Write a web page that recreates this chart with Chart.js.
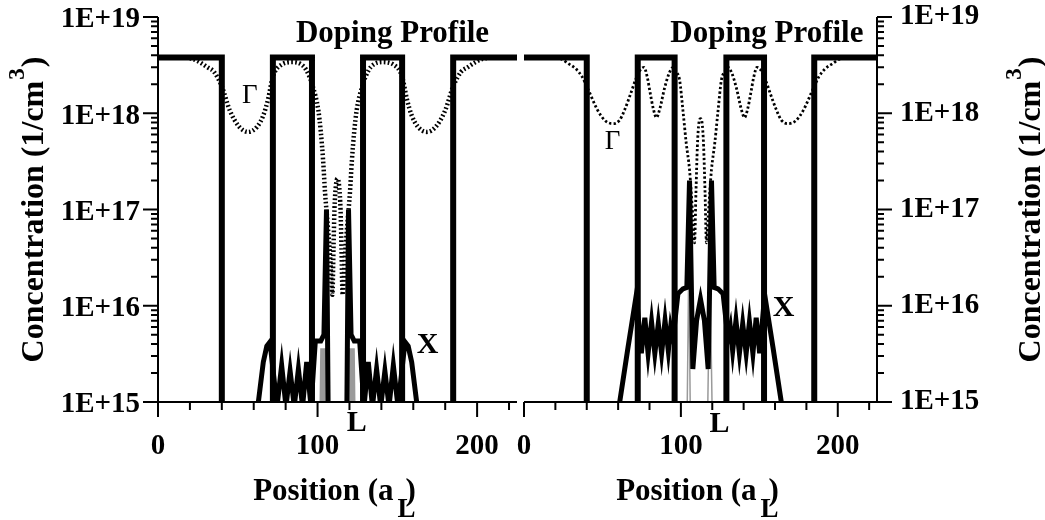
<!DOCTYPE html>
<html>
<head>
<meta charset="utf-8">
<script src="https://cdn.jsdelivr.net/npm/chart.js@4.4.0/dist/chart.umd.min.js"></script>
<style>
  html, body { margin: 0; padding: 0; background: #fff; }
  #wrap { position: relative; width: 1045px; height: 520px; }
  #wrap canvas { position: absolute; left: 0; top: 0; }
</style>
</head>
<body>
<div id="wrap">
  <canvas id="leftPanel" width="1045" height="520"></canvas>
  <canvas id="rightPanel" width="1045" height="520"></canvas>
</div>
<script>
// axes
const xTicks = [0, 20, 40, 60, 80, 100, 120, 140, 160, 180, 200, 220];
const xLabels = [0, 100, 200];
const yDecades = [15, 16, 17, 18, 19];
const yMantissas = [1, 2, 3, 4, 5, 6, 7, 8, 9];

// left panel
const leftDopingX = [0, 40, 40, 72, 72, 96.5, 96.5, 128.5, 128.5, 153, 153, 185, 185, 225];
const leftDoping = [3.8e18, 3.8e18, 1e13, 1e13, 3.8e18, 3.8e18, 1e13, 1e13, 3.8e18, 3.8e18, 1e13, 1e13, 3.8e18, 3.8e18];

const leftGammaX = [0, 15, 22, 26, 31, 35, 40, 45, 51, 56.5, 62, 66, 69, 72, 77.5, 84.5, 90, 93, 97, 100.5,
  102, 103.5, 104.7, 106.5, 108, 109.3, 110, 110.6, 111.4, 112.5, 113.6, 114.4, 115, 115.7, 117, 118.5, 120.3,
  121.5, 123, 124.5, 128, 132, 135, 140.5, 147.5, 153, 156, 159, 163, 168.5, 174, 180, 185, 190, 194, 199, 203, 210, 225];
const leftGamma = [3.8e18, 3.8e18, 3.65e18, 3.4e18, 3.0e18, 2.7e18, 1.9e18, 1.07e18, 7.2e17, 6.4e17, 7.2e17, 9.5e17,
  1.4e18, 2.4e18, 3.2e18, 3.4e18, 3.2e18, 2.8e18, 1.9e18, 1.07e18, 6.5e17, 3.2e17, 1.5e17, 6.5e16, 3e16, 1.3e16,
  4e16, 1e17, 1.7e17, 2.1e17, 1.7e17, 1e17, 4e16, 1.3e16, 3e16, 6.5e16, 1.5e17, 3.2e17, 6.5e17, 1.07e18, 1.9e18,
  2.8e18, 3.2e18, 3.4e18, 3.2e18, 2.4e18, 1.4e18, 9.5e17, 7.2e17, 6.4e17, 7.2e17, 1.07e18, 1.9e18, 2.7e18, 3.0e18,
  3.4e18, 3.65e18, 3.8e18, 3.8e18];

const leftXvX = [61, 62.9, 66, 68.2, 70.2, 74.6, 77.5, 80.2, 82.8, 85.4, 88, 90.6, 93.2, 95.9, 98.6, 102, 104,
  105.6, 106.8, 118.2, 119.4, 121, 123, 126.4, 129.1, 131.8, 134.4, 137, 139.6, 142.2, 144.8, 147.5, 150.4,
  154.8, 156.8, 159, 162.1, 164];
const leftXv = [4e14, 1e15, 2.6e15, 3.8e15, 4.2e15, 9e14, 2.4e15, 9e14, 2.1e15, 9e14, 2.2e15, 9e14, 2.6e15, 9e14,
  4.3e15, 4.3e15, 5e15, 1e17, 4e14, 4e14, 1e17, 5e15, 4.3e15, 4.3e15, 9e14, 2.6e15, 9e14, 2.2e15, 9e14, 2.1e15,
  9e14, 2.4e15, 9e14, 4.2e15, 3.8e15, 2.6e15, 1e15, 4e14];

const leftLX = [102.4, 103.2, 104.6, 105.4, 119.6, 120.4, 121.8, 122.6];
const leftL = [3e14, 3.4e15, 3.4e15, 3e14, 3e14, 3.4e15, 3.4e15, 3e14];

// right panel
const rightDopingX = [0, 40, 40, 72.5, 72.5, 96, 96, 129, 129, 153, 153, 185, 185, 225];
const rightDoping = [3.8e18, 3.8e18, 1e13, 1e13, 3.8e18, 3.8e18, 1e13, 1e13, 3.8e18, 3.8e18, 1e13, 1e13, 3.8e18, 3.8e18];

const rightGammaX = [0, 20, 24, 28, 33, 37, 41, 47, 52, 57, 61, 64, 68, 71, 74, 76.5, 78.5, 80.5, 82.5, 84.4, 86.5,
  89.5, 92.5, 95, 97, 99.2, 101.3, 103.4, 105.5, 106.6, 107.7, 108.7, 109.6, 110.5, 111.5, 112.5, 113.5, 114.5,
  115.4, 116.3, 117.3, 118.4, 119.5, 121.6, 123.7, 125.8, 128, 130, 132.5, 135.5, 138.5, 140.6, 142.5, 144.5,
  146.5, 148.5, 151, 154, 157, 161, 164, 168, 173, 178, 184, 188, 192, 197, 201, 205, 225];
const rightGamma = [3.8e18, 3.8e18, 3.65e18, 3.3e18, 2.9e18, 2.4e18, 1.75e18, 1.07e18, 8.3e17, 7.8e17, 8.5e17,
  1.07e18, 1.6e18, 2.2e18, 2.8e18, 3e18, 2.4e18, 1.6e18, 1.1e18, 9e17, 1.1e18, 1.8e18, 2.6e18, 3e18, 2.7e18,
  2.2e18, 1.07e18, 4.9e17, 2.6e17, 1.5e17, 7.8e16, 4.5e16, 1.5e17, 4.5e17, 8e17, 8.8e17, 8e17, 4.5e17, 1.5e17,
  4.5e16, 7.8e16, 1.5e17, 2.6e17, 4.9e17, 1.07e18, 2.2e18, 2.7e18, 3e18, 2.6e18, 1.8e18, 1.1e18, 9e17, 1.1e18,
  1.6e18, 2.4e18, 3e18, 2.8e18, 2.2e18, 1.6e18, 1.07e18, 8.5e17, 7.8e17, 8.3e17, 1.07e18, 1.75e18, 2.4e18,
  2.9e18, 3.3e18, 3.65e18, 3.8e18, 3.8e18];

const rightXvX = [59, 61, 66.3, 71.6, 74.8, 77, 79.1, 81.3, 83.4, 85.6, 87.7, 89.9, 92, 93.5, 95, 98.1, 101.3,
  103.8, 105.5, 107.6, 110, 112.5, 115, 117.4, 119.5, 121.2, 123.7, 126.9, 130, 131.5, 133, 135.1, 137.3, 139.4,
  141.6, 143.7, 145.9, 148, 150.2, 153.4, 158.7, 164, 166];
const rightXv = [5e14, 1e15, 3.7e15, 1.3e16, 3.2e15, 7.5e15, 3.2e15, 6.8e15, 3.2e15, 6.5e15, 3.2e15, 7e15, 3.4e15,
  6e15, 4.6e15, 1.33e16, 1.5e16, 1.55e16, 2e17, 2.2e15, 7e15, 1.17e16, 7e15, 2.2e15, 2e17, 1.55e16, 1.5e16,
  1.33e16, 4.6e15, 6e15, 3.4e15, 7e15, 3.2e15, 6.5e15, 3.2e15, 6.8e15, 3.2e15, 7.5e15, 3.2e15, 1.3e16, 3.7e15,
  1e15, 5e14];

const rightLX = [103.6, 105, 106.4, 116.5, 118.5, 120.5];
const rightL = [2e14, 2.5e16, 2e14, 2e14, 2.5e16, 2e14];

const serif = "'Liberation Serif', 'Times New Roman', serif";

function pts(xs, ys) {
  return xs.map((x, i) => ({ x: x, y: ys[i] }));
}

function isDecade(v) {
  const e = Math.round(Math.log10(v));
  return Math.abs(v - Math.pow(10, e)) < v * 1e-9;
}

const yTickValues = [];
yDecades.forEach((e, i) => {
  if (i === yDecades.length - 1) {
    yTickValues.push(Number('1e' + e));
  } else {
    yMantissas.forEach(m => yTickValues.push(Number(m + 'e' + e)));
  }
});

// axis lines, tick marks, titles and the curve names
const panelDeco = {
  id: 'panelDeco',
  afterDraw(chart, args, opts) {
    const ctx = chart.ctx;
    const a = chart.chartArea;
    const sx = chart.scales.x, sy = chart.scales.y;
    const onLeft = opts.side === 'left';
    const axisX = onLeft ? a.left : a.right;
    const dir = onLeft ? -1 : 1;

    ctx.save();
    ctx.strokeStyle = '#000';
    ctx.lineWidth = 2;
    ctx.beginPath();
    ctx.moveTo(a.left, a.bottom);
    ctx.lineTo(a.right, a.bottom);
    ctx.moveTo(axisX, a.top);
    ctx.lineTo(axisX, a.bottom + 1);
    sx.ticks.forEach(t => {
      const px = sx.getPixelForValue(t.value);
      ctx.moveTo(px, a.bottom);
      ctx.lineTo(px, a.bottom + (xLabels.includes(t.value) ? 15 : 8));
    });
    sy.ticks.forEach(t => {
      const py = sy.getPixelForValue(t.value);
      ctx.moveTo(axisX, py);
      ctx.lineTo(axisX + dir * (isDecade(t.value) ? 15 : 7), py);
    });
    ctx.stroke();

    ctx.fillStyle = '#000';
    ctx.textBaseline = 'alphabetic';

    // labels on the curves
    opts.notes.forEach(n => {
      ctx.font = n.font + ' ' + serif;
      ctx.textAlign = n.align;
      ctx.fillText(n.text, sx.getPixelForValue(n.x), sy.getPixelForValue(n.y));
    });

    // x title: Position (a_L)
    ctx.textAlign = 'left';
    const big = 'bold 31px ' + serif;
    ctx.font = big;
    const main = 'Position (a';
    const wMain = ctx.measureText(main).width;
    const wClose = ctx.measureText(')').width;
    const total = wMain + 12 + wClose;
    const x0 = (a.left + a.right) / 2 - 3 - total / 2;
    ctx.fillText(main, x0, 500);
    ctx.fillText(')', x0 + wMain + 12, 500);
    ctx.font = 'bold 27px ' + serif;
    ctx.fillText('L', x0 + wMain + 4, 517);

    // y title: Concentration (1/cm^3)
    ctx.save();
    ctx.translate(opts.yTitleX, (a.top + a.bottom) / 2);
    ctx.rotate(-Math.PI / 2);
    const yBig = 'bold 32px ' + serif;
    ctx.font = yBig;
    const t1 = 'Concentration (1/cm';
    const w1 = ctx.measureText(t1).width;
    const w3 = ctx.measureText(')').width;
    ctx.font = 'bold 23px ' + serif;
    const w2 = ctx.measureText('3').width;
    const start = -(w1 + w2 + 2 + w3) / 2;
    ctx.fillText('3', start + w1 + 1, -19);
    ctx.font = yBig;
    ctx.fillText(t1, start, 0);
    ctx.fillText(')', start + w1 + w2 + 2, 0);
    ctx.restore();

    ctx.restore();
  }
};

function makePanel(id, side, s, notes, yTitleX) {
  const onLeft = side === 'left';
  return new Chart(document.getElementById(id), {
    type: 'line',
    data: {
      datasets: [
        { label: 'Gamma', data: pts(s.gammaX, s.gamma), borderColor: '#000', borderWidth: s.gammaWidth,
          borderDash: s.gammaDash, cubicInterpolationMode: 'monotone', order: 0 },
        { label: 'X', data: pts(s.xvX, s.xv), borderColor: '#000', borderWidth: 5, order: 1 },
        { label: 'L', data: pts(s.lX, s.l), borderColor: '#9a9a9a', borderWidth: s.lWidth, order: 2 },
        { label: 'Doping', data: pts(s.dopX, s.dop), borderColor: '#000', borderWidth: 6, order: 3 }
      ]
    },
    options: {
      responsive: false,
      animation: false,
      events: [],
      layout: {
        autoPadding: false,
        padding: onLeft ? { left: 0, right: 528, top: 17, bottom: 0 } : { left: 524, right: 0, top: 17, bottom: 0 }
      },
      elements: {
        point: { radius: 0 },
        line: { tension: 0, borderJoinStyle: 'miter', fill: false }
      },
      plugins: {
        legend: { display: false },
        tooltip: { enabled: false },
        panelDeco: { side: side, notes: notes, yTitleX: yTitleX }
      },
      scales: {
        x: {
          type: 'linear', min: 0, max: 225,
          afterBuildTicks: sc => { sc.ticks = xTicks.map(v => ({ value: v })); },
          afterFit: sc => { sc.height = 118; sc.paddingLeft = 0; sc.paddingRight = 0; },
          grid: { display: false, drawTicks: false },
          border: { display: false },
          ticks: {
            autoSkip: false, maxRotation: 0, padding: 29, color: '#000',
            font: { family: serif, size: 29, weight: 'bold', lineHeight: 1.1 },
            callback: v => xLabels.includes(v) ? String(v) : ''
          }
        },
        y: {
          type: 'logarithmic', position: side, min: 1e15, max: 1e19,
          afterBuildTicks: sc => { sc.ticks = yTickValues.map(v => ({ value: v })); },
          afterFit: sc => { sc.width = onLeft ? 158 : 168; sc.paddingTop = 0; sc.paddingBottom = 0; },
          grid: { display: false, drawTicks: false },
          border: { display: false },
          ticks: {
            autoSkip: false, padding: onLeft ? 18 : 23, labelOffset: onLeft ? 3 : 0, color: '#000',
            font: { family: serif, size: 29, weight: 'bold', lineHeight: 1.1 },
            callback: v => isDecade(v) ? '1E+' + Math.round(Math.log10(v)) : ''
          }
        }
      }
    },
    plugins: [panelDeco]
  });
}

makePanel('leftPanel', 'left', {
  dopX: leftDopingX, dop: leftDoping,
  gammaX: leftGammaX, gamma: leftGamma, gammaWidth: 4.5, gammaDash: [1.7, 2.3],
  xvX: leftXvX, xv: leftXv,
  lX: leftLX, l: leftL, lWidth: 5
}, [
  { text: 'Doping Profile', x: 147, y: 5.5e18, font: 'bold 31px', align: 'center' },
  { text: 'Γ', x: 52.7, y: 1.27e18, font: '27px', align: 'left' },
  { text: 'X', x: 162.2, y: 3.26e15, font: 'bold 30px', align: 'left' },
  { text: 'L', x: 118.3, y: 5e14, font: 'bold 30px', align: 'left' }
], 43);

makePanel('rightPanel', 'right', {
  dopX: rightDopingX, dop: rightDoping,
  gammaX: rightGammaX, gamma: rightGamma, gammaWidth: 2.8, gammaDash: [2.3, 2.3],
  xvX: rightXvX, xv: rightXv,
  lX: rightLX, l: rightL, lWidth: 1.5
}, [
  { text: 'Doping Profile', x: 154.8, y: 5.5e18, font: 'bold 31px', align: 'center' },
  { text: 'Γ', x: 51.5, y: 4.3e17, font: '27px', align: 'left' },
  { text: 'X', x: 158.5, y: 7.9e15, font: 'bold 30px', align: 'left' },
  { text: 'L', x: 118.2, y: 4.9e14, font: 'bold 30px', align: 'left' }
], 1040);
</script>
</body>
</html>
